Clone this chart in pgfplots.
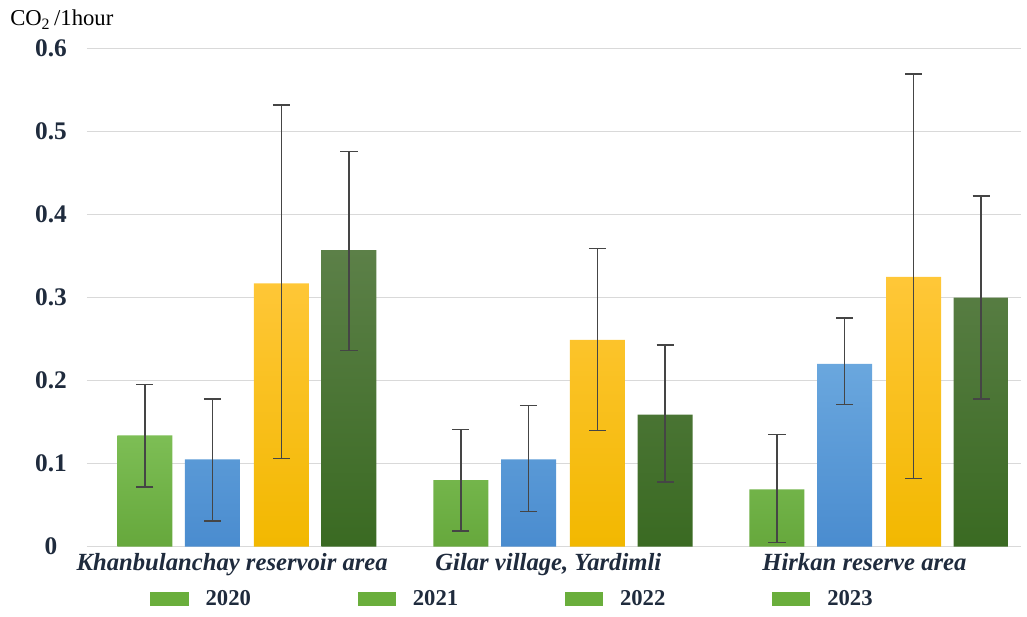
\documentclass[border=0pt]{standalone}
\usepackage{fontspec}
\setmainfont{Liberation Serif}
\usepackage{pgfplots}
\pgfplotsset{compat=1.18}
\definecolor{gAt}{HTML}{7DBE55}
\definecolor{gAb}{HTML}{66A83C}
\definecolor{bBt}{HTML}{6AA7DE}
\definecolor{bBb}{HTML}{4A8CCF}
\definecolor{yCt}{HTML}{FFC738}
\definecolor{yCb}{HTML}{F2B800}
\definecolor{dDt}{HTML}{5C8048}
\definecolor{dDb}{HTML}{3A6A22}
\definecolor{legG}{HTML}{6AAE3C}
\definecolor{errc}{HTML}{454545}
\definecolor{gridc}{HTML}{D9D9D9}
\definecolor{txt}{HTML}{1F2B3D}
\begin{document}
\begin{tikzpicture}
\begin{axis}[
  width=700.5pt, height=373.5pt, scale only axis,
  xmin=-0.506, xmax=2.449, ymin=0, ymax=0.6,
  clip=false,
  axis line style={draw=none},
  major tick length=0pt,
  tick style={draw=none},
  ytick={0,0.1,0.2,0.3,0.4,0.5,0.6},
  yticklabels={0,0.1,0.2,0.3,0.4,0.5,0.6},
  ymajorgrids,
  grid style={gridc, line width=1.1pt},
  xtick={0,1,2},
  xticklabels={Khanbulanchay reservoir area, {Gilar village, Yardimli}, Hirkan reserve area},
  /pgf/number format/assume math mode=true,
  yticklabel style={anchor=center, xshift=-27pt, font=\bfseries\fontsize{19}{22}\selectfont, text=txt},
  xticklabel style={xshift=-11pt, yshift=-1.5pt, font=\bfseries\itshape\fontsize{18.5}{22}\selectfont, text=txt},
  legend columns=4,
  legend style={at={(rel axis cs:0.456,-0.1054)}, anchor=center, draw=none, fill=none,
    font=\bfseries\fontsize{17}{20}\selectfont, text=txt,
    /tikz/every even column/.append style={column sep=78pt}},
  error bars/y dir=both, error bars/y explicit,
  error bars/error bar style={errc, line width=1.2pt},
  error bars/error mark options={rotate=90, mark size=6.4pt, errc, line width=1.2pt},
]
\addplot[ybar, forget plot, bar width=0.174, bar shift=0pt, draw=none, top color=gAt, bottom color=gAb]
  coordinates {(-0.323,0.134) += (0,0.061) -= (0,0.062)
               (0.677,0.080) += (0,0.061) -= (0,0.061)
               (1.677,0.069) += (0,0.066) -= (0,0.064)};
\addplot[ybar, forget plot, bar width=0.174, bar shift=0pt, draw=none, top color=bBt, bottom color=bBb]
  coordinates {(-0.109,0.105) += (0,0.073) -= (0,0.074)
               (0.891,0.105) += (0,0.065) -= (0,0.063)
               (1.891,0.220) += (0,0.055) -= (0,0.049)};
\addplot[ybar, forget plot, bar width=0.174, bar shift=0pt, draw=none, top color=yCt, bottom color=yCb]
  coordinates {(0.109,0.317) += (0,0.215) -= (0,0.211)
               (1.109,0.249) += (0,0.110) -= (0,0.109)
               (2.109,0.325) += (0,0.244) -= (0,0.243)};
\addplot[ybar, forget plot, bar width=0.174, bar shift=0pt, draw=none, top color=dDt, bottom color=dDb]
  coordinates {(0.323,0.357) += (0,0.119) -= (0,0.121)
               (1.323,0.159) += (0,0.084) -= (0,0.081)
               (2.323,0.300) += (0,0.122) -= (0,0.122)};
\addlegendimage{legend image code/.code={\fill[legG] (0pt,-5pt) rectangle (28pt,5pt); \path (39pt,0pt);}}
\addlegendentry{2020}
\addlegendimage{legend image code/.code={\fill[legG] (0pt,-5pt) rectangle (28pt,5pt); \path (39pt,0pt);}}
\addlegendentry{2021}
\addlegendimage{legend image code/.code={\fill[legG] (0pt,-5pt) rectangle (28pt,5pt); \path (39pt,0pt);}}
\addlegendentry{2022}
\addlegendimage{legend image code/.code={\fill[legG] (0pt,-5pt) rectangle (28pt,5pt); \path (39pt,0pt);}}
\addlegendentry{2023}
\node[anchor=base west, font=\fontsize{17}{20}\selectfont, text=black, inner sep=0pt] at (rel axis cs:-0.0824,1.0452) {CO\textsubscript{2}\,/1hour};
\path (rel axis cs:-0.0931,-0.1396) rectangle (rel axis cs:1.00642,1.0974);
\end{axis}
\end{tikzpicture}
\end{document}
